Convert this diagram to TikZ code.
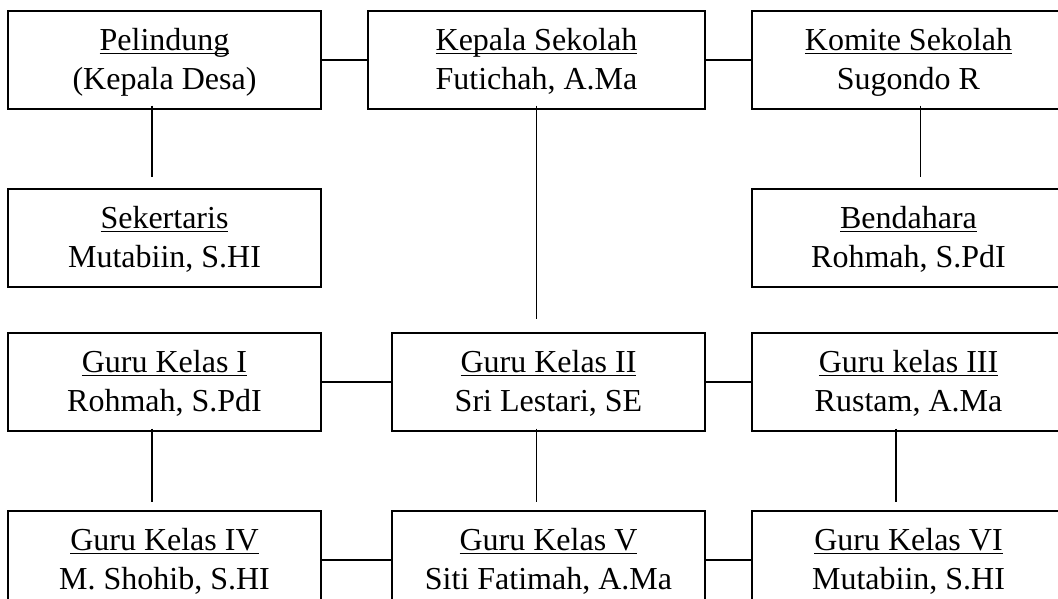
\documentclass[tikz,border=0pt]{standalone}
\usepackage{fontspec}
\setmainfont{Liberation Serif}
\usepackage{tikz}
\usetikzlibrary{positioning}
\newcommand\ulined[1]{\setbox0\hbox{#1}\rlap{\rule[-2.6pt]{\wd0}{1pt}}\box0}
\newcommand\posttext[2]{\rule{0pt}{21pt}\ulined{#1}\\#2\rule[-6pt]{0pt}{6pt}}
\tikzset{post/.style = {draw, line width = 0.9pt, align = center,
                        minimum width = 234.75pt, minimum height = 73.5pt,
                        inner sep = 0,
                        font = \fontsize{24}{29}\selectfont}}
\tikzset{wide/.style = {post, minimum width = 252.75pt}}
\tikzset{link/.style = {line width = 0.9pt}}

\begin{document}
\begin{tikzpicture}[x = 0.75pt, y = -0.75pt]
    \useasboundingbox (0, 0) rectangle (1058, 599);
    \clip (0, 0) rectangle (1058, 599);

    \node [post] (pelindung) at (164.5, 60) {\posttext{Pelindung}{(Kepala Desa)}};
    \node [wide] (kepsek) at (536.5, 60) {\posttext{Kepala Sekolah}{Futichah, A.Ma}};
    \node [post] (komite) at (908.5, 60) {\posttext{Komite Sekolah}{Sugondo R}};

    \node [post] (sekretaris) at (164.5, 238) {\posttext{Sekertaris}{Mutabiin, S.HI}};
    \node [post] (bendahara) at (908.5, 238) {\posttext{Bendahara}{Rohmah, S.PdI}};

    \node [post] (guru1) at (164.5, 382) {\posttext{Guru Kelas I}{Rohmah, S.PdI}};
    \node [post] (guru2) at (548.5, 382) {\posttext{Guru Kelas II}{Sri Lestari, SE}};
    \node [post] (guru3) at (908.5, 382) {\posttext{Guru kelas III}{Rustam, A.Ma}};

    \node [post] (guru4) at (164.5, 560) {\posttext{Guru Kelas IV}{M. Shohib, S.HI}};
    \node [post] (guru5) at (548.5, 560) {\posttext{Guru Kelas V}{Siti Fatimah, A.Ma}};
    \node [post] (guru6) at (908.5, 560) {\posttext{Guru Kelas VI}{Mutabiin, S.HI}};

    \draw [link] (pelindung) -- (kepsek);
    \draw [link] (kepsek) -- (komite);
    \draw [link] (guru1) -- (guru2);
    \draw [link] (guru2) -- (guru3);
    \draw [link] (guru4) -- (guru5);
    \draw [link] (guru5) -- (guru6);

    \draw [link] ([shift={(-12.5, -4)}]pelindung.south) -- ([shift={(-12.5, -11)}]sekretaris.north);
    \draw [link] ([shift={(12, -4)}]komite.south) -- ([shift={(12, -11)}]bendahara.north);
    \draw [link] ([shift={(0, -4)}]kepsek.south) -- ([shift={(-12, -13)}]guru2.north);

    \draw [link] ([shift={(-12.5, -3)}]guru1.south) -- ([shift={(-12.5, -8)}]guru4.north);
    \draw [link] ([shift={(-12, -3)}]guru2.south) -- ([shift={(-12, -8)}]guru5.north);
    \draw [link] ([shift={(-12.5, -3)}]guru3.south) -- ([shift={(-12.5, -8)}]guru6.north);
  \end{tikzpicture}
\end{document}
